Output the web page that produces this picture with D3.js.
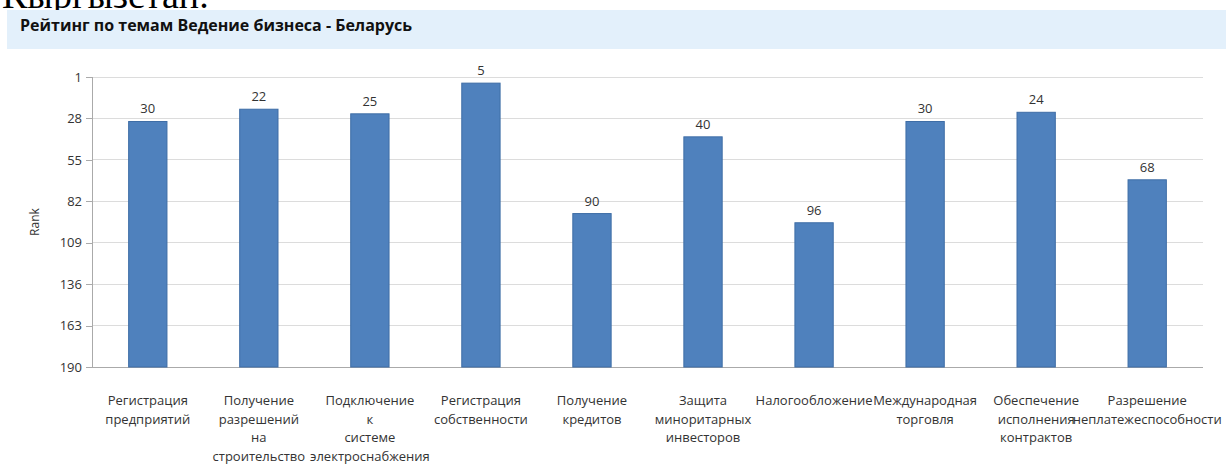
<!DOCTYPE html>
<html><head><meta charset="utf-8">
<script src="https://cdn.jsdelivr.net/npm/d3@7"></script>
<style>body{margin:0;background:#fff;overflow:hidden}svg{display:block}</style>
</head><body><svg id="c" width="1226" height="464"></svg>
<script>
const categories = ["Регистрация предприятий","Получение разрешений на строительство","Подключение к системе электроснабжения","Регистрация собственности","Получение кредитов","Защита миноритарных инвесторов","Налогообложение","Международная торговля","Обеспечение исполнения контрактов","Разрешение неплатежеспособности"];
const ranks = [30,22,25,5,90,40,96,30,24,68];
const tickValues = [1,28,55,82,109,136,163,190];
const title = "Рейтинг по темам Ведение бизнеса - Беларусь";
const yTitle = "Rank";

const svg = d3.select("#c");
const font = "'Open Sans', sans-serif";
// cut-off heading above
svg.append("text").attr("x",2).attr("y",8).attr("font-family","'Liberation Serif', serif")
  .attr("font-size",38).attr("fill","#000").text("Кыргызстан.");
svg.append("rect").attr("x",7).attr("y",10).attr("width",1219).attr("height",39).attr("fill","#e3f0fb");
svg.append("text").attr("x",20).attr("y",31).attr("font-family",font).attr("font-weight","bold")
  .attr("font-size",16).attr("fill","#111").text(title);

const x0=92,x1=1203,yTop=77,yBot=367;
const x = d3.scaleBand().domain(categories).range([x0,x1]).paddingInner(0.655).paddingOuter(0.33);
const y = d3.scaleLinear().domain([1,190]).range([yTop,yBot]);

const g = svg.append("g");
g.selectAll("line.grid").data(tickValues).join("line").attr("class","grid")
  .attr("x1",x0).attr("x2",x1).attr("y1",d=>y(d)).attr("y2",d=>y(d))
  .attr("stroke","#dcdcdc").attr("stroke-width",1).attr("shape-rendering","crispEdges");

const yAxis = g.append("g").attr("transform",`translate(${x0},0)`)
  .call(d3.axisLeft(y).tickValues(tickValues).tickSize(6).tickPadding(4).tickFormat(d3.format("d")));
yAxis.select(".domain").attr("stroke","#aaa").attr("shape-rendering","crispEdges");
yAxis.selectAll(".tick line").attr("stroke","#aaa").attr("shape-rendering","crispEdges");
yAxis.selectAll("text").attr("font-family",font).attr("font-size",13).attr("fill","#333");
g.append("line").attr("x1",x0).attr("x2",x1).attr("y1",yBot).attr("y2",yBot).attr("stroke","#aaa").attr("shape-rendering","crispEdges");

svg.append("text").attr("transform",`translate(39,222) rotate(-90)`).attr("text-anchor","middle")
  .attr("font-family",font).attr("font-size",12).attr("fill","#333").text(yTitle);

g.selectAll("rect.bar").data(categories).join("rect").attr("class","bar")
  .attr("x",d=>x(d)).attr("width",x.bandwidth())
  .attr("y",(d,i)=>y(ranks[i])).attr("height",(d,i)=>yBot-y(ranks[i]))
  .attr("fill","#4f81bd").attr("stroke","#3e6da6").attr("stroke-width",1);

g.selectAll("text.val").data(categories).join("text").attr("class","val")
  .attr("x",d=>x(d)+x.bandwidth()/2).attr("y",(d,i)=>y(ranks[i])-8)
  .attr("text-anchor","middle").attr("font-family",font).attr("font-size",13).attr("fill","#333")
  .text((d,i)=>ranks[i]);

const lab = g.selectAll("text.xl").data(categories).join("text").attr("class","xl")
  .attr("text-anchor","middle").attr("font-family",font).attr("font-size",13).attr("fill","#333");
lab.each(function(d){
  const t=d3.select(this), cx=x(d)+x.bandwidth()/2;
  d.split(" ").forEach((w,i)=>t.append("tspan").attr("x",cx).attr("y",405+i*18.7).text(w));
});
</script></body></html>
